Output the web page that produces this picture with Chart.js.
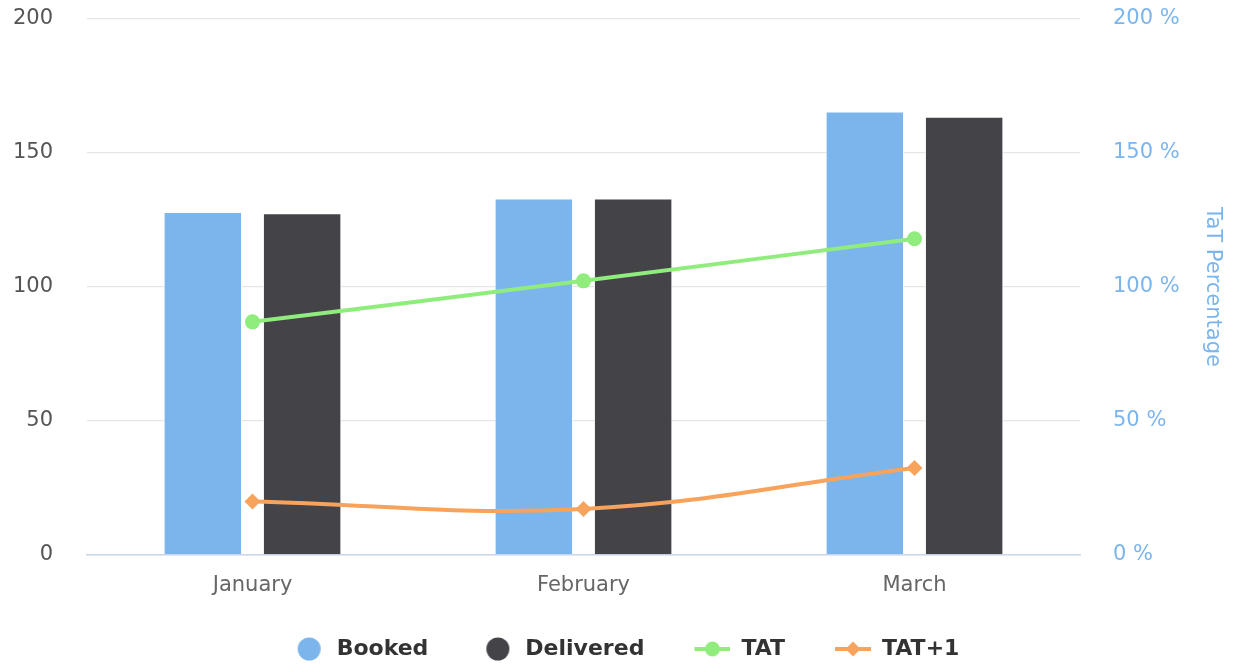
<!DOCTYPE html>
<html>
<head>
<meta charset="utf-8">
<script src="https://cdn.jsdelivr.net/npm/chart.js@4/dist/chart.umd.min.js"></script>
<style>
  html, body { margin: 0; padding: 0; background: #fff; }
  #wrap { width: 1237px; height: 664px; position: relative; }
</style>
</head>
<body>
<div id="wrap"><canvas id="c"></canvas></div>
<script>
const categories = ['January', 'February', 'March'];
const booked = [128, 133, 165.5];
const delivered = [127.5, 133, 163.5];
const tat = [87, 102.3, 118];
const tatPlus1 = [20, 17.2, 32.5];
const leftTicks = [0, 50, 100, 150, 200];
const rightTicks = [0, 50, 100, 150, 200];

const FONT = "'DejaVu Sans', Verdana, sans-serif";
const BOX_W = 70;

function circleIcon(color) {
  const cv = document.createElement('canvas');
  cv.width = BOX_W; cv.height = 26;
  const g = cv.getContext('2d');
  g.fillStyle = color;
  g.beginPath(); g.arc(53.5, 13, 11.5, 0, Math.PI * 2); g.fill();
  return cv;
}
function lineIcon(color, marker) {
  const cv = document.createElement('canvas');
  cv.width = BOX_W; cv.height = 26;
  const g = cv.getContext('2d');
  g.strokeStyle = color; g.fillStyle = color; g.lineWidth = 4;
  g.beginPath(); g.moveTo(34, 13); g.lineTo(70, 13); g.stroke();
  const cx = 52;
  if (marker === 'circle') {
    g.beginPath(); g.arc(cx, 13, 7.5, 0, Math.PI * 2); g.fill();
  } else {
    g.beginPath(); g.moveTo(cx, 5.5); g.lineTo(cx + 7.5, 13); g.lineTo(cx, 20.5); g.lineTo(cx - 7.5, 13); g.closePath(); g.fill();
  }
  return cv;
}

const icons = [circleIcon('#7cb5ec'), circleIcon('#434348'), lineIcon('#90ed7d', 'circle'), lineIcon('#f7a35c', 'diamond')];

new Chart(document.getElementById('c'), {
  type: 'bar',
  data: {
    labels: categories,
    datasets: [
      { type: 'bar', label: 'Booked', data: booked, backgroundColor: '#7cb5ec', borderColor: '#ffffff', borderWidth: 1, yAxisID: 'y', order: 2, categoryPercentage: 0.6, barPercentage: 0.79 },
      { type: 'bar', label: 'Delivered', data: delivered, backgroundColor: '#434348', borderColor: '#ffffff', borderWidth: 1, yAxisID: 'y', order: 2, categoryPercentage: 0.6, barPercentage: 0.79 },
      { type: 'line', label: 'TAT', data: tat, borderColor: '#90ed7d', backgroundColor: '#90ed7d', borderWidth: 4, pointRadius: 7.5, pointHoverRadius: 7.5, pointStyle: 'circle', pointBorderWidth: 0, tension: 0.4, yAxisID: 'y1', order: 1 },
      { type: 'line', label: 'TAT+1', data: tatPlus1, borderColor: '#f7a35c', backgroundColor: '#f7a35c', borderWidth: 4, pointRadius: 8, pointHoverRadius: 8, pointStyle: 'rectRot', pointBorderWidth: 0, tension: 0.4, yAxisID: 'y1', order: 1 }
    ]
  },
  options: {
    responsive: true,
    maintainAspectRatio: false,
    animation: false,
    layout: { padding: { top: 19, left: -22, right: 0, bottom: -6 } },
    plugins: {
      tooltip: { enabled: false },
      legend: {
        position: 'bottom',
        labels: {
          usePointStyle: true,
          pointStyleWidth: BOX_W,
          padding: 16,
          color: '#333333',
          font: { family: FONT, size: 22, weight: 'bold' },
          generateLabels: (chart) => chart.data.datasets.map((ds, i) => ({
            text: ds.label,
            fillStyle: ds.backgroundColor,
            strokeStyle: ds.backgroundColor,
            lineWidth: 0,
            pointStyle: icons[i],
            hidden: false,
            datasetIndex: i,
            fontColor: '#333333'
          }))
        }
      }
    },
    scales: {
      x: {
        grid: { display: false, drawTicks: false },
        border: { display: true, color: '#ccd6eb', width: 1.5 },
        ticks: { color: '#666666', font: { family: FONT, size: 21 }, padding: 18, maxRotation: 0 },
        afterFit: (s) => { s.height = 67; }
      },
      y: {
        position: 'left',
        min: 0, max: 200,
        afterBuildTicks: (s) => { s.ticks = leftTicks.map(v => ({ value: v })); },
        grid: { color: '#e6e6e6', lineWidth: 1.3, drawTicks: true, tickLength: 34, tickColor: 'rgba(0,0,0,0)' },
        border: { display: false },
        ticks: { color: '#555555', font: { family: FONT, size: 21 }, padding: 0 },
        afterFit: (s) => { s.width = 109; }
      },
      y1: {
        position: 'right',
        min: 0, max: 200,
        afterBuildTicks: (s) => { s.ticks = rightTicks.map(v => ({ value: v })); },
        grid: { drawOnChartArea: false, drawTicks: true, tickLength: 33, tickColor: 'rgba(0,0,0,0)' },
        border: { display: false },
        ticks: { color: '#7cb5ec', font: { family: FONT, size: 21 }, padding: 0, callback: (v) => v + ' %' },
        title: { display: true, text: 'TaT Percentage', color: '#7cb5ec', font: { family: FONT, size: 21 }, padding: { top: 12, bottom: 0 } },
        afterFit: (s) => { s.width = 157; }
      }
    }
  }
});
</script>
</body>
</html>
